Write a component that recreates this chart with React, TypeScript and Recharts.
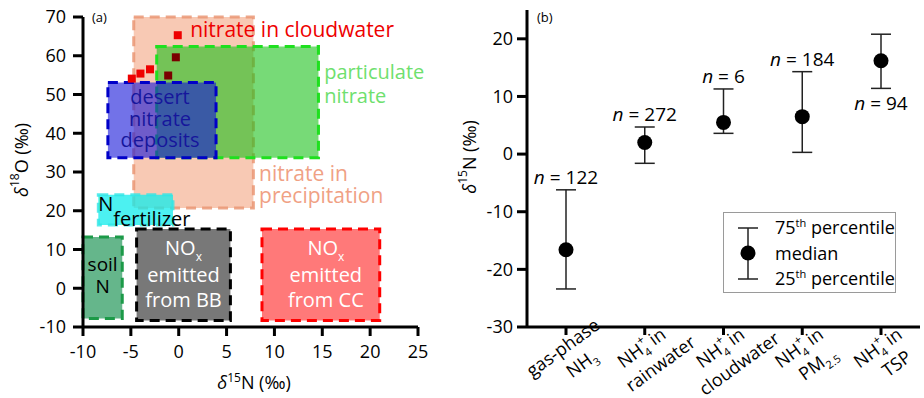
import React from 'react';
import {
  ScatterChart,
  ComposedChart,
  Scatter,
  XAxis,
  YAxis,
  ReferenceArea,
  ReferenceDot,
  ErrorBar,
  Legend,
} from 'recharts';

// ---- panel (a): source ranges (permil) ----
const sourceNames = ['precipitation', 'particulate', 'desert', 'fertilizer', 'soil', 'BB', 'CC'];
const boxN15Min = [-4.7, -2.3, -7.4, -8.4, -10, -4.4, 8.7];
const boxN15Max = [7.8, 14.6, 3.9, -0.6, -5.9, 5.4, 21];
const boxO18Min = [20.7, 33.7, 33.7, 16.3, -7.8, -8.3, -8.3];
const boxO18Max = [70, 62.4, 53.1, 24.1, 13.2, 15.3, 15.3];

// nitrate in cloudwater, two sets
const cloudN15 = [-4.9, -4.0, -3.0, -0.1];
const cloudO18 = [54.1, 55.4, 56.5, 65.3];
const cloudDarkN15 = [-0.3, -1.1];
const cloudDarkO18 = [59.6, 54.9];

const xTicksA = [-10, -5, 0, 5, 10, 15, 20, 25];
const yTicksA = [-10, 0, 10, 20, 30, 40, 50, 60, 70];

// ---- panel (b): NH4+/NH3 d15N ----
const categories = ['gas-phase NH3', 'NH4+ in rainwater', 'NH4+ in cloudwater', 'NH4+ in PM2.5', 'NH4+ in TSP'];
const medians = [-16.6, 2.0, 5.5, 6.5, 16.2];
const q25 = [-23.4, -1.6, 3.6, 0.3, 11.4];
const q75 = [-6.2, 4.7, 11.3, 14.3, 20.8];
const nCounts = [122, 272, 6, 184, 94];
const nLabelBelow = [false, false, false, false, true];
const yTicksB = [-30, -20, -10, 0, 10, 20];

const FONT = '"Open Sans", "Noto Sans", sans-serif';

const boxStyle: Record<string, any> = {
  precipitation: { fill: '#f4a582', fillOpacity: 0.6, stroke: '#ea9774', strokeOpacity: 0.85 },
  particulate: { fill: '#14c014', fillOpacity: 0.58, stroke: '#1fe01f', strokeOpacity: 1 },
  desert: { fill: '#1414d8', fillOpacity: 0.6, stroke: '#0000c8', strokeOpacity: 1 },
  fertilizer: { fill: '#10ecec', fillOpacity: 0.75, stroke: '#30e6e6', strokeOpacity: 0.8 },
  soil: { fill: '#2a9a5e', fillOpacity: 0.72, stroke: '#1c9a48', strokeOpacity: 1 },
  BB: { fill: '#5a5a5a', fillOpacity: 0.82, stroke: '#000000', strokeOpacity: 1 },
  CC: { fill: '#ff3a3a', fillOpacity: 0.68, stroke: '#ff0000', strokeOpacity: 1 },
};

const redSquare = (color: string) => (p: any) => (
  <rect x={p.cx - 4} y={p.cy - 4} width={8} height={8} fill={color} />
);

// text inside the boxes, placed around the box centre
const insideLabel = (name: string) => (props: any) => {
  const vb = props.viewBox;
  if (!vb) return null;
  const cx = vb.x + vb.width / 2;
  const cy = vb.y + vb.height / 2;
  const common = { fontFamily: FONT, textAnchor: 'middle' as const };
  if (name === 'desert') {
    return (
      <text {...common} fontSize={20} fill="#16169c">
        <tspan x={cx - 2} y={vb.y + 22}>desert</tspan>
        <tspan x={cx - 2} y={vb.y + 44}>nitrate</tspan>
        <tspan x={cx - 2} y={vb.y + 65}>deposits</tspan>
      </text>
    );
  }
  if (name === 'soil') {
    return (
      <text {...common} fontSize={19} fill="#000">
        <tspan x={cx} y={cy - 7}>soil</tspan>
        <tspan x={cx} y={cy + 15}>N</tspan>
      </text>
    );
  }
  if (name === 'BB' || name === 'CC') {
    const dx = name === 'CC' ? 5 : 0;
    return (
      <text {...common} fontSize={20} fill="#fff">
        <tspan x={cx + dx} y={cy - 20}>
          NO<tspan fontSize={12} dy={6}>x</tspan>
        </tspan>
        <tspan x={cx + dx} y={cy + 7}>emitted</tspan>
        <tspan x={cx + dx} y={cy + 32}>from {name}</tspan>
      </text>
    );
  }
  return null;
};

const textAt = (lines: string[], color: string, lineGap: number, size = 20, dxs: number[] = []) => (p: any) => (
  <text fontFamily={FONT} fontSize={size} fill={color}>
    {lines.map((l, i) => (
      <tspan key={i} x={p.cx + (dxs[i] || 0)} y={p.cy + i * lineGap}>
        {l}
      </tspan>
    ))}
  </text>
);

const PanelA = () => {
  const cloud = cloudN15.map((x, i) => ({ x, y: cloudO18[i] }));
  const cloudDark = cloudDarkN15.map((x, i) => ({ x, y: cloudDarkO18[i] }));
  const boxes = sourceNames.map((name, i) => ({
    name,
    x1: boxN15Min[i],
    x2: boxN15Max[i],
    y1: boxO18Min[i],
    y2: boxO18Max[i],
  }));
  return (
    <ScatterChart width={440} height={398} margin={{ top: 17, right: 22, bottom: 21, left: 0 }}>
      <XAxis
        type="number"
        dataKey="x"
        domain={[-10, 25]}
        ticks={xTicksA}
        height={50}
        tickSize={9}
        tickMargin={9}
        axisLine={{ stroke: '#000', strokeWidth: 3 }}
        tickLine={{ stroke: '#000', strokeWidth: 3 }}
        tick={{ fill: '#000', fontSize: 18, fontFamily: FONT }}
        label={{
          content: () => (
            <text x={254} y={389} textAnchor="middle" fontFamily={FONT} fontSize={18} fill="#000">
              <tspan fontStyle="italic">δ</tspan>
              <tspan fontSize={12} dy={-7}>15</tspan>
              <tspan dy={7}>N (‰)</tspan>
            </text>
          ),
        }}
      />
      <YAxis
        type="number"
        dataKey="y"
        domain={[-10, 70]}
        ticks={yTicksA}
        width={83}
        tickSize={10}
        tickMargin={7}
        axisLine={{ stroke: '#000', strokeWidth: 3 }}
        tickLine={{ stroke: '#000', strokeWidth: 3 }}
        tick={{ fill: '#000', fontSize: 18, fontFamily: FONT }}
        label={{
          content: () => (
            <text
              transform="rotate(-90, 21, 160)"
              x={21}
              y={160}
              textAnchor="middle"
              dominantBaseline="central"
              fontFamily={FONT}
              fontSize={18}
              fill="#000"
            >
              <tspan fontStyle="italic">δ</tspan>
              <tspan fontSize={12} dy={-7}>18</tspan>
              <tspan dy={7}>O (‰)</tspan>
            </text>
          ),
        }}
      />
      {boxes.map((b) => {
        const s = boxStyle[b.name];
        return (
          <ReferenceArea
            key={b.name}
            x1={b.x1}
            x2={b.x2}
            y1={b.y1}
            y2={b.y2}
            fill={s.fill}
            fillOpacity={s.fillOpacity}
            stroke={s.stroke}
            strokeOpacity={s.strokeOpacity}
            strokeWidth={3}
            strokeDasharray="10 6"
            ifOverflow="visible"
            label={insideLabel(b.name)}
          />
        );
      })}
      <Scatter data={cloud} isAnimationActive={false} shape={redSquare('#ee0000')} />
      <Scatter data={cloudDark} isAnimationActive={false} shape={redSquare('#7a0000')} />
      <ReferenceDot x={1.2} y={64.8} r={0} shape={textAt(['nitrate in cloudwater'], '#ee0000', 0, 21)} />
      <ReferenceDot x={15.2} y={54.1} r={0} shape={textAt(['particulate', 'nitrate'], '#6ee06e', 24)} />
      <ReferenceDot x={8.4} y={27.7} r={0} shape={textAt(['nitrate in', 'precipitation'], '#f0a184', 22, 21)} />
      <ReferenceDot x={-8.4} y={20} r={0} shape={textAt(['N', 'fertilizer'], '#000', 15, 20, [0, 15])} />
      <text x={92} y={22} fontFamily={FONT} fontSize={13} fill="#000">(a)</text>
    </ScatterChart>
  );
};

// chemical formulas in the category names
const chem = (s: string) => {
  const parts: React.ReactNode[] = [];
  const re = /(NH4\+|NH3|PM2\.5)/g;
  let last = 0;
  let m: RegExpExecArray | null;
  let k = 0;
  while ((m = re.exec(s))) {
    if (m.index > last) parts.push(<tspan key={k++}>{s.slice(last, m.index)}</tspan>);
    if (m[0] === 'NH4+') {
      parts.push(<tspan key={k++}>NH</tspan>);
      parts.push(<tspan key={k++} dy={5} fontSize={11}>4</tspan>);
      parts.push(<tspan key={k++} dx={-6} dy={-14} fontSize={12}>+</tspan>);
      parts.push(<tspan key={k++} dy={9}>{'\u00a0'}</tspan>);
    } else {
      const base = m[0] === 'NH3' ? 'NH' : 'PM';
      const sub = m[0] === 'NH3' ? '3' : '2.5';
      parts.push(<tspan key={k++}>{base}</tspan>);
      parts.push(<tspan key={k++} dy={5} fontSize={11}>{sub}</tspan>);
    }
    last = m.index + m[0].length;
  }
  if (last < s.length) parts.push(<tspan key={k++}>{s.slice(last).replace(/^ /, '')}</tspan>);
  return parts;
};

const splitCategory = (s: string) => {
  if (s.startsWith('gas-phase')) return ['gas-phase', s.slice(10)];
  const idx = s.indexOf(' in ');
  return [s.slice(0, idx + 3), s.slice(idx + 4)];
};

const ANGLE = -36;
const rad = (ANGLE * Math.PI) / 180;

// each line is rotated about its own centre
const CategoryTick = (props: any) => {
  const { x, y, payload } = props;
  const [l1, l2] = splitCategory(payload.value);
  const c1x = x - 3;
  const c1y = y + 11;
  // second line: 6px along the text, 24px across it
  const c2x = c1x + 6 * Math.cos(rad) - 24 * Math.sin(rad);
  const c2y = c1y + 6 * Math.sin(rad) + 24 * Math.cos(rad);
  return (
    <g>
      <text
        x={c1x}
        y={c1y}
        dy={6}
        transform={`rotate(${ANGLE}, ${c1x}, ${c1y})`}
        textAnchor="middle"
        fontFamily={FONT}
        fontSize={18}
        fill="#000"
      >
        {chem(l1)}
      </text>
      <text
        x={c2x}
        y={c2y}
        dy={6}
        transform={`rotate(${ANGLE}, ${c2x}, ${c2y})`}
        textAnchor="middle"
        fontFamily={FONT}
        fontSize={18}
        fill="#000"
      >
        {chem(l2)}
      </text>
    </g>
  );
};

const Dot = (p: any) => <circle cx={p.cx} cy={p.cy} r={7.5} fill="#000" />;

const NLabel = (p: any) => {
  const below = p.payload.below;
  return (
    <text
      x={p.cx}
      y={below ? p.cy + 22 : p.cy - 6}
      textAnchor="middle"
      fontFamily={FONT}
      fontSize={19}
      fill="#000"
    >
      <tspan fontStyle="italic">n</tspan> = {p.payload.n}
    </text>
  );
};

const LegendBox = () => (
  <div
    style={{
      width: 173,
      height: 81,
      boxSizing: 'border-box',
      border: '1px solid #9a9a9a',
      background: '#fff',
    }}
  >
    <svg width={171} height={79} style={{ display: 'block' }}>
      <g stroke="#222" strokeWidth={1.5}>
        <line x1={24} x2={24} y1={15} y2={66} />
        <line x1={14} x2={34} y1={15} y2={15} />
        <line x1={14} x2={34} y1={66} y2={66} />
      </g>
      <circle cx={24} cy={40} r={7.5} fill="#000" />
      <g fontFamily={FONT} fontSize={18} fill="#000">
        <text x={51} y={21}>
          75<tspan fontSize={11} dy={-7}>th</tspan>
          <tspan dy={7}> percentile</tspan>
        </text>
        <text x={51} y={47}>median</text>
        <text x={51} y={72}>
          25<tspan fontSize={11} dy={-7}>th</tspan>
          <tspan dy={7}> percentile</tspan>
        </text>
      </g>
    </svg>
  </div>
);

const PanelB = () => {
  const data = categories.map((name, i) => ({
    name,
    median: medians[i],
    err: [medians[i] - q25[i], q75[i] - medians[i]],
    nY: nLabelBelow[i] ? q25[i] : q75[i],
    n: nCounts[i],
    below: nLabelBelow[i],
  }));
  return (
    <ComposedChart width={484} height={398} data={data} margin={{ top: 10, right: 4, bottom: 21, left: 0 }}>
      <XAxis
        dataKey="name"
        type="category"
        interval={0}
        height={50}
        padding={{ left: 39, right: 39 }}
        tickSize={8}
        tickMargin={2}
        axisLine={{ stroke: '#000', strokeWidth: 3 }}
        tickLine={{ stroke: '#000', strokeWidth: 3 }}
        tick={<CategoryTick />}
      />
      <YAxis
        type="number"
        domain={[-30, 25]}
        ticks={yTicksB}
        width={87}
        tickSize={10}
        tickMargin={4}
        axisLine={{ stroke: '#000', strokeWidth: 3 }}
        tickLine={{ stroke: '#000', strokeWidth: 3 }}
        tick={{ fill: '#000', fontSize: 18, fontFamily: FONT }}
        label={{
          content: () => (
            <text
              transform="rotate(-90, 29, 157)"
              x={29}
              y={157}
              textAnchor="middle"
              dominantBaseline="central"
              fontFamily={FONT}
              fontSize={18}
              fill="#000"
            >
              <tspan fontStyle="italic">δ</tspan>
              <tspan fontSize={12} dy={-7}>15</tspan>
              <tspan dy={7}>N (‰)</tspan>
            </text>
          ),
        }}
      />
      <Scatter dataKey="median" isAnimationActive={false} shape={<Dot />}>
        <ErrorBar dataKey="err" direction="y" width={10} stroke="#222" strokeWidth={1.5} />
      </Scatter>
      <Scatter dataKey="nY" isAnimationActive={false} shape={<NLabel />} />
      <Legend
        layout="vertical"
        align="center"
        verticalAlign="middle"
        content={() => <LegendBox />}
        wrapperStyle={{ left: 283, top: 212, width: 173, height: 81 }}
      />
      <text x={97} y={22} fontFamily={FONT} fontSize={13} fill="#000">(b)</text>
    </ComposedChart>
  );
};

export default function App() {
  return (
    <div style={{ position: 'absolute', left: 0, top: 0, width: 924, height: 398, background: '#fff' }}>
      <div style={{ position: 'absolute', left: 0, top: 0 }}>
        <PanelA />
      </div>
      <div style={{ position: 'absolute', left: 440, top: 0 }}>
        <PanelB />
      </div>
    </div>
  );
}
